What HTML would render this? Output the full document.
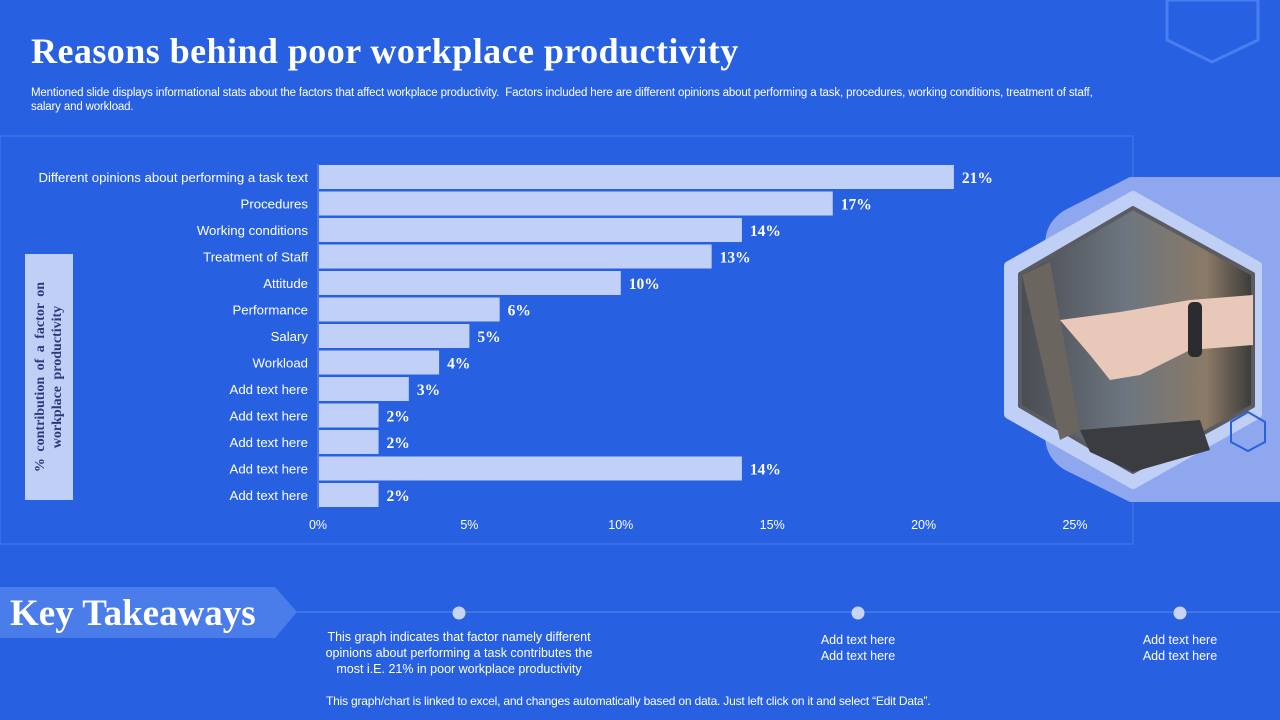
<!DOCTYPE html>
<html><head><meta charset="utf-8"><style>
body{margin:0;width:1280px;height:720px;overflow:hidden;background:#2860e2;font-family:"Liberation Sans",sans-serif;position:relative}
.abs{position:absolute}
</style></head><body>
<svg class="abs" style="left:0;top:0" width="1280" height="720">
  <polygon points="1167,0 1167,40 1212,62 1258,40 1258,0" fill="none" stroke="#4a7ef0" stroke-width="3"/>
  <rect x="0" y="136" width="1133" height="408" fill="none" stroke="#4a78e8" stroke-width="1"/>
  <path d="M1130,177 L1280,177 L1280,502 L1130,502 L1065,470 Q1045,458 1045,435 L1045,245 Q1045,222 1065,210 Z" fill="#8fa7ef"/>
  <polygon points="1133,196 1257,266 1257,414 1133,484 1009,414 1009,266" fill="#c0cff6" stroke="#c0cff6" stroke-width="10" stroke-linejoin="round"/>
  <defs><linearGradient id="ph" x1="0" y1="0" x2="1" y2="0"><stop offset="0" stop-color="#4a4c52"/><stop offset="0.45" stop-color="#6c7580"/><stop offset="0.8" stop-color="#8a7a66"/><stop offset="1" stop-color="#3a3a3a"/></linearGradient></defs>
  <polygon points="1133,208 1253,274 1253,406 1133,472 1020,406 1020,274" fill="url(#ph)" stroke="#5a5c62" stroke-width="4" stroke-linejoin="round"/>
  <polygon points="1022,275 1050,262 1080,430 1060,440" fill="#6b6560"/>
  <path d="M1060,320 L1120,312 L1190,300 L1253,295 L1253,345 L1190,350 L1140,375 L1110,380 L1090,355 Z" fill="#e8c8b8"/>
  <rect x="1188" y="302" width="14" height="55" rx="5" fill="#2a2c30"/>
  <polygon points="1080,430 1200,420 1210,450 1133,472 1090,452" fill="#3a3c40"/>
  <polygon points="1248,412 1265,422 1265,442 1248,451 1231,442 1231,422" fill="none" stroke="#2a5fe0" stroke-width="2"/>
  <polygon points="0,587 275,587 297,612 275,638 0,638" fill="#4a7cea"/>
  <line x1="297" y1="612" x2="1280" y2="612" stroke="#5a88ee" stroke-width="1"/>
  <circle cx="459" cy="613" r="6.5" fill="#c8d4f6"/>
  <circle cx="858" cy="613" r="6.5" fill="#c8d4f6"/>
  <circle cx="1180" cy="613" r="6.5" fill="#c8d4f6"/>
</svg>

<div class="abs" style="left:31px;top:30px;font-family:'Liberation Serif',serif;font-weight:bold;font-size:36px;letter-spacing:0.45px;color:#fff">Reasons behind poor workplace productivity</div>
<div class="abs" style="left:31px;top:86px;width:1200px;font-size:11.5px;line-height:14px;color:#fff;letter-spacing:-0.15px">Mentioned slide displays informational stats about the factors that affect workplace productivity.&nbsp; Factors included here are different opinions about performing a task, procedures, working conditions, treatment of staff,<br>salary and workload.</div>

<div class="abs" style="left:25px;top:254px;width:48px;height:246px;background:#c0cff6"></div>
<div class="abs" style="left:49px;top:377px;width:246px;transform:translate(-50%,-50%) rotate(-90deg);font-family:'Liberation Serif',serif;font-weight:bold;font-size:14px;line-height:17px;word-spacing:3px;text-align:center;color:#2b3a78">% contribution of a factor on<br>workplace productivity</div>

<svg id="chart" class="abs" style="left:0;top:0" width="1280" height="560"></svg>

<div class="abs" style="left:10px;top:592px;font-family:'Liberation Serif',serif;font-weight:bold;font-size:37px;color:#fff">Key Takeaways</div>
<div class="abs" style="left:314px;top:629px;width:290px;text-align:center;font-size:12.5px;line-height:16px;color:#fff">This graph indicates that factor namely different opinions about performing a task contributes the most i.E. 21% in poor workplace productivity</div>
<div class="abs" style="left:758px;top:632px;width:200px;text-align:center;font-size:12.5px;line-height:16px;color:#fff">Add text here<br>Add text here</div>
<div class="abs" style="left:1080px;top:632px;width:200px;text-align:center;font-size:12.5px;line-height:16px;color:#fff">Add text here<br>Add text here</div>
<div class="abs" style="left:326px;top:694px;font-size:12px;color:#fff;letter-spacing:-0.2px">This graph/chart is linked to excel, and changes automatically based on data. Just left click on it and select “Edit Data”.</div>

<script>
const categories=["Different opinions about performing a task text","Procedures","Working conditions","Treatment of Staff","Attitude","Performance","Salary","Workload","Add text here","Add text here","Add text here","Add text here","Add text here"];
const values=[21,17,14,13,10,6,5,4,3,2,2,14,2];
const ticks=[0,5,10,15,20,25];
const svg=document.getElementById('chart');
const NS='http://www.w3.org/2000/svg';
const x0=318,xMax=25,xW=757,top0=164,rowH=26.5;
function xs(v){return x0+v/xMax*xW;}
function yr(i){return top0+i*rowH;}
function mk(t,a){const e=document.createElementNS(NS,t);for(const k in a)e.setAttribute(k,a[k]);svg.appendChild(e);return e;}
const ax=mk('line',{x1:x0,y1:top0,x2:x0,y2:yr(categories.length),stroke:'#6f93ee','stroke-width':1});


categories.forEach((c,i)=>{
  const r=mk('rect',{x:x0+1,y:yr(i)+1,width:xs(values[i])-x0-1,height:rowH-2.5,fill:'#c0d0f6'});
  
  
  const l=mk('text',{x:x0-10,y:yr(i)+rowH/2+4.5,'text-anchor':'end','font-size':13.2,fill:'#fff','font-family':'Liberation Sans, sans-serif'});
  l.textContent=c;
  
  
  const v=mk('text',{x:xs(values[i])+8,y:yr(i)+rowH/2+5.5,'font-size':15.5,'font-weight':'bold',fill:'#fff','font-family':'Liberation Serif, serif'});
  v.textContent=values[i]+'%';
  
  
});
ticks.forEach(t=>{
  const e=mk('text',{x:xs(t),y:529,'text-anchor':'middle','font-size':12.5,fill:'#fff','font-family':'Liberation Sans, sans-serif'});
  e.textContent=t+'%';
  
  
});
</script>
</body></html>
